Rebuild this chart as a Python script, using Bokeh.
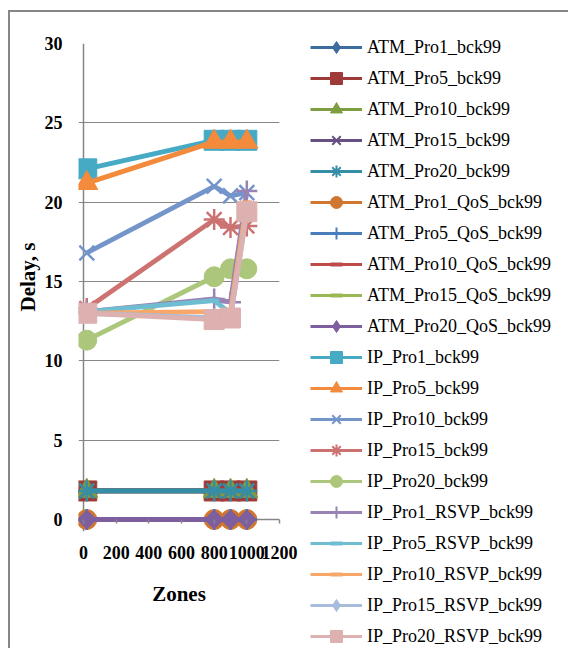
import math
from bokeh.plotting import figure
from bokeh.models import (Legend, LegendItem, FixedTicker, ColumnDataSource, Range1d,
                          Span, Title)
from bokeh.embed import file_html
from bokeh.resources import INLINE

# ---------------- data ----------------
zones = [20, 800, 900, 1000]

series_names = [
    "ATM_Pro1_bck99", "ATM_Pro5_bck99", "ATM_Pro10_bck99", "ATM_Pro15_bck99",
    "ATM_Pro20_bck99", "ATM_Pro1_QoS_bck99", "ATM_Pro5_QoS_bck99",
    "ATM_Pro10_QoS_bck99", "ATM_Pro15_QoS_bck99", "ATM_Pro20_QoS_bck99",
    "IP_Pro1_bck99", "IP_Pro5_bck99", "IP_Pro10_bck99", "IP_Pro15_bck99",
    "IP_Pro20_bck99", "IP_Pro1_RSVP_bck99", "IP_Pro5_RSVP_bck99",
    "IP_Pro10_RSVP_bck99", "IP_Pro15_RSVP_bck99", "IP_Pro20_RSVP_bck99",
]

atm_pro1_bck99 = [1.8, 1.8, 1.8, 1.8]
atm_pro5_bck99 = [1.8, 1.8, 1.8, 1.8]
atm_pro10_bck99 = [1.8, 1.8, 1.8, 1.8]
atm_pro15_bck99 = [1.8, 1.8, 1.8, 1.8]
atm_pro20_bck99 = [1.8, 1.8, 1.8, 1.8]
atm_pro1_qos_bck99 = [0, 0, 0, 0]
atm_pro5_qos_bck99 = [0, 0, 0, 0]
atm_pro10_qos_bck99 = [0, 0, 0, 0]
atm_pro15_qos_bck99 = [0, 0, 0, 0]
atm_pro20_qos_bck99 = [0, 0, 0, 0]
ip_pro1_bck99 = [22.1, 23.9, 23.9, 23.9]
ip_pro5_bck99 = [21.2, 23.8, 23.8, 23.8]
ip_pro10_bck99 = [16.8, 21.0, 20.4, 20.6]
ip_pro15_bck99 = [13.3, 18.9, 18.4, 18.5]
ip_pro20_bck99 = [11.3, 15.3, 15.8, 15.8]
ip_pro1_rsvp_bck99 = [13.1, 13.9, 13.7, 20.7]
ip_pro5_rsvp_bck99 = [13.1, 13.8, 13.0, 19.6]
ip_pro10_rsvp_bck99 = [13.0, 13.1, 13.1, 20.0]
ip_pro15_rsvp_bck99 = [13.0, 12.7, 12.7, 19.4]
ip_pro20_rsvp_bck99 = [13.0, 12.6, 12.7, 19.4]

series_values = [
    atm_pro1_bck99, atm_pro5_bck99, atm_pro10_bck99, atm_pro15_bck99,
    atm_pro20_bck99, atm_pro1_qos_bck99, atm_pro5_qos_bck99,
    atm_pro10_qos_bck99, atm_pro15_qos_bck99, atm_pro20_qos_bck99,
    ip_pro1_bck99, ip_pro5_bck99, ip_pro10_bck99, ip_pro15_bck99,
    ip_pro20_bck99, ip_pro1_rsvp_bck99, ip_pro5_rsvp_bck99,
    ip_pro10_rsvp_bck99, ip_pro15_rsvp_bck99, ip_pro20_rsvp_bck99,
]

x_ticks = [0, 200, 400, 600, 800, 1000, 1200]
y_ticks = [0, 5, 10, 15, 20, 25, 30]

# ---------------- styles ----------------
colors = [
    "#3d6c9e", "#9e3b38", "#7e9d40", "#664f83", "#358ea6",
    "#d0762f", "#4a7ebb", "#be4b48", "#98b954", "#7d5fa0",
    "#46aac5", "#f38a3c", "#7495ca", "#cc7371", "#acc77c",
    "#9983b5", "#6fbdd1", "#f9a66b", "#a8bcdb", "#ddb1b0",
]
markers = [
    "diamond", "square", "triangle", "x", "asterisk",
    "circle", "cross", "dash", "dash", "diamond",
    "square", "triangle", "x", "asterisk", "circle",
    "cross", "dash", "dash", "diamond", "square",
]

FONT = "Liberation Serif"
GRID = "#868686"

# the frame is a little larger than the data area (5 px left of x=0, 12 px below y=0)
# so that markers sitting on the axes are not cut off, as in the original
p = figure(
    frame_width=201, frame_height=488,
    min_border_left=68, min_border_top=31, min_border_right=289, min_border_bottom=117,
    x_range=(-30.6, 1200), y_range=(-0.756, 30),
    output_backend="svg", toolbar_location=None,
    x_axis_label="Zones",
    styles={"border-left": "2px solid #868686", "border-top": "2px solid #868686"},
    margin=(10, 0, 0, 8),
)
# range used only by the legend swatch renderers (they fall outside the frame)
p.extra_y_ranges = {"legend_only": Range1d(1000, 2000)}

p.outline_line_color = None
p.background_fill_color = "white"
p.border_fill_color = "white"

p.xgrid.grid_line_color = None
p.ygrid.grid_line_color = GRID
p.ygrid.grid_line_width = 1

p.xaxis.ticker = FixedTicker(ticks=x_ticks)
p.yaxis.ticker = FixedTicker(ticks=y_ticks)
for ax in (p.xaxis[0], p.yaxis[0]):
    ax.axis_line_color = None
    ax.major_tick_line_color = GRID
    ax.major_tick_line_width = 1.5
    ax.minor_tick_line_color = None
    ax.major_label_text_font = FONT
    ax.major_label_text_font_style = "bold"
    ax.major_label_text_font_size = "18px"
    ax.major_label_text_color = "black"
    ax.axis_label_text_font = FONT
    ax.axis_label_text_font_style = "bold"
    ax.axis_label_text_font_size = "21px"
    ax.axis_label_text_color = "black"
# x ticks: short marks just below the y=0 line
p.xaxis.major_tick_in = 12
p.xaxis.major_tick_out = -8
p.xaxis.major_label_standoff = 14
p.xaxis.axis_label_standoff = 20
# y ticks: the grid lines start 5 px left of the axis, acting as ticks
p.yaxis.major_tick_in = 0
p.yaxis.major_tick_out = 0
p.yaxis.major_label_standoff = 16

# axis lines at x=0 and y=0
p.add_layout(Span(location=0, dimension="height", line_color=GRID, line_width=1.5, level="underlay"))
p.add_layout(Span(location=0, dimension="width", line_color=GRID, line_width=1.5, level="underlay"))

ytitle = Title(text="Delay, s", align="left", offset=220, standoff=4,
               text_font=FONT, text_font_style="bold", text_font_size="21px",
               text_color="black")
p.add_layout(ytitle, "left")

items = []
for name, vals, col, mk in zip(series_names, series_values, colors, markers):
    src = ColumnDataSource(data=dict(x=zones, y=vals))
    p.line("x", "y", source=src, line_color=col, line_width=4.8)
    if mk == "diamond":
        p.scatter("x", "y", source=src, marker="square", size=13.5, angle=math.pi / 4,
                  fill_color=col, line_color=col)
    elif mk in ("x", "asterisk", "cross"):
        p.scatter("x", "y", source=src, marker=mk, size=21, line_color=col, line_width=2.5)
    elif mk == "dash":
        p.scatter("x", "y", source=src, marker="dash", size=10, line_color=col, line_width=4)
    elif mk == "triangle":
        p.scatter("x", "y", source=src, marker="triangle", size=22, fill_color=col, line_color=col)
    else:
        p.scatter("x", "y", source=src, marker=mk, size=20, fill_color=col, line_color=col)

    # legend swatches: thinner line, smaller marker (drawn outside the frame)
    kw = dict(source=src, y_range_name="legend_only")
    lr = p.line("x", "y", line_color=col, line_width=3, **kw)
    if mk in ("x", "asterisk", "cross"):
        sr = p.scatter("x", "y", marker=mk, line_color=col, line_width=2, **kw)
    elif mk == "dash":
        sr = p.scatter("x", "y", marker="dash", line_color=col, line_width=4, **kw)
    else:
        sr = p.scatter("x", "y", marker=mk, fill_color=col, line_color=col, **kw)
    items.append(LegendItem(label=name, renderers=[lr, sr]))

legend = Legend(
    items=items, location=(31, -120),
    glyph_width=52, glyph_height=30, label_height=30, spacing=1,
    label_standoff=5, padding=0, margin=0,
    border_line_alpha=0, background_fill_alpha=0,
    label_text_font=FONT, label_text_font_size="18px", label_text_color="black",
)
p.add_layout(legend, "right")

open("out.html", "w").write(file_html(p, INLINE))
